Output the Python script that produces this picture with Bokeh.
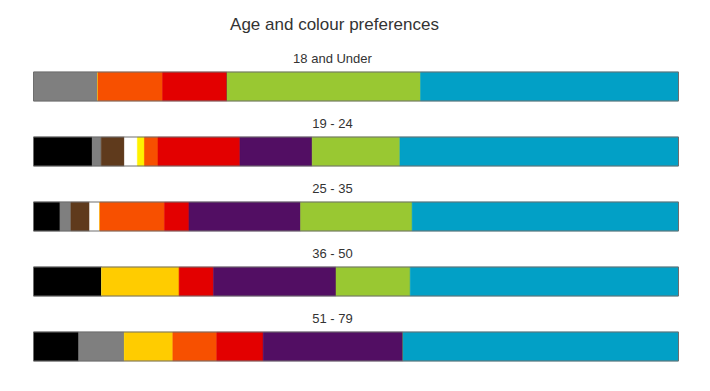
from bokeh.plotting import figure
from bokeh.models import ColumnDataSource, Range1d, Label
from bokeh.embed import file_html
from bokeh.resources import INLINE
from bokeh.core.properties import value

title = "Age and colour preferences"
groups = ["18 and Under", "19 - 24", "25 - 35", "36 - 50", "51 - 79"]
colours = ["black", "grey", "brown", "white", "yellow", "gold", "orange", "red", "purple", "green", "blue"]
palette = ["#000000", "#7f7f7f", "#5f3a1c", "#ffffff", "#fff200", "#ffcc00", "#f75000", "#e30000", "#520e63", "#99c832", "#02a0c6"]

# share of respondents (%) per colour, per age group
black  = [0.0, 9.1, 4.1, 10.6, 7.0]
grey   = [10.0, 1.4, 1.7, 0.0, 7.1]
brown  = [0.0, 3.6, 2.9, 0.0, 0.0]
white  = [0.0, 2.0, 1.6, 0.0, 0.0]
yellow = [0.0, 1.1, 0.0, 0.0, 0.0]
gold   = [0.0, 0.0, 0.0, 12.0, 7.5]
orange = [10.0, 2.1, 10.0, 0.0, 6.8]
red    = [10.0, 12.7, 3.8, 5.3, 7.2]
purple = [0.0, 11.2, 17.3, 19.0, 21.7]
green  = [30.0, 13.6, 17.3, 11.5, 0.0]
blue   = [40.0, 43.2, 41.3, 41.6, 42.7]

W, H = 694, 383
left_px, right_px = 33, 678
ppu = (right_px - left_px) / 100.0
first_px, step_px, bar_px = 86, 65, 29
label_px = 332

rows = list(range(len(groups)))
data = dict(row=rows, black=black, grey=grey, brown=brown, white=white, yellow=yellow,
            gold=gold, orange=orange, red=red, purple=purple, green=green, blue=blue)
src = ColumnDataSource(data)

p = figure(width=W, height=H, output_backend="svg", toolbar_location=None,
           x_range=Range1d(-left_px / ppu, (W - left_px) / ppu),
           y_range=Range1d((H - first_px) / step_px, -first_px / step_px),
           min_border=0, outline_line_color=None)
p.axis.visible = False
p.grid.visible = False

bh = bar_px / step_px
p.hbar_stack(colours, y="row", height=bh, color=palette, line_color=palette, line_width=0.5, source=src)

# outline of each bar
totals = [sum(v) for v in zip(black, grey, brown, white, yellow, gold, orange, red, purple, green, blue)]
p.hbar(y=rows, left=0, right=totals, height=bh, fill_color=None, line_color="#6e6e6e", line_width=1)

# group labels
lx = (label_px - left_px) / ppu
p.text(x=[lx] * len(groups), y=[r - 28.5 / step_px for r in rows], text=groups,
       text_align="center", text_baseline="middle", text_font=value("Liberation Sans"),
       text_font_size="13px", text_color="#333333")

p.add_layout(Label(x=334, y=H - 23.5, x_units="screen", y_units="screen", text=title,
                   text_align="center", text_baseline="middle", text_font="Liberation Sans",
                   text_font_size="17px", text_color="#333333"))

open("out.html", "w").write(file_html(p, INLINE))
